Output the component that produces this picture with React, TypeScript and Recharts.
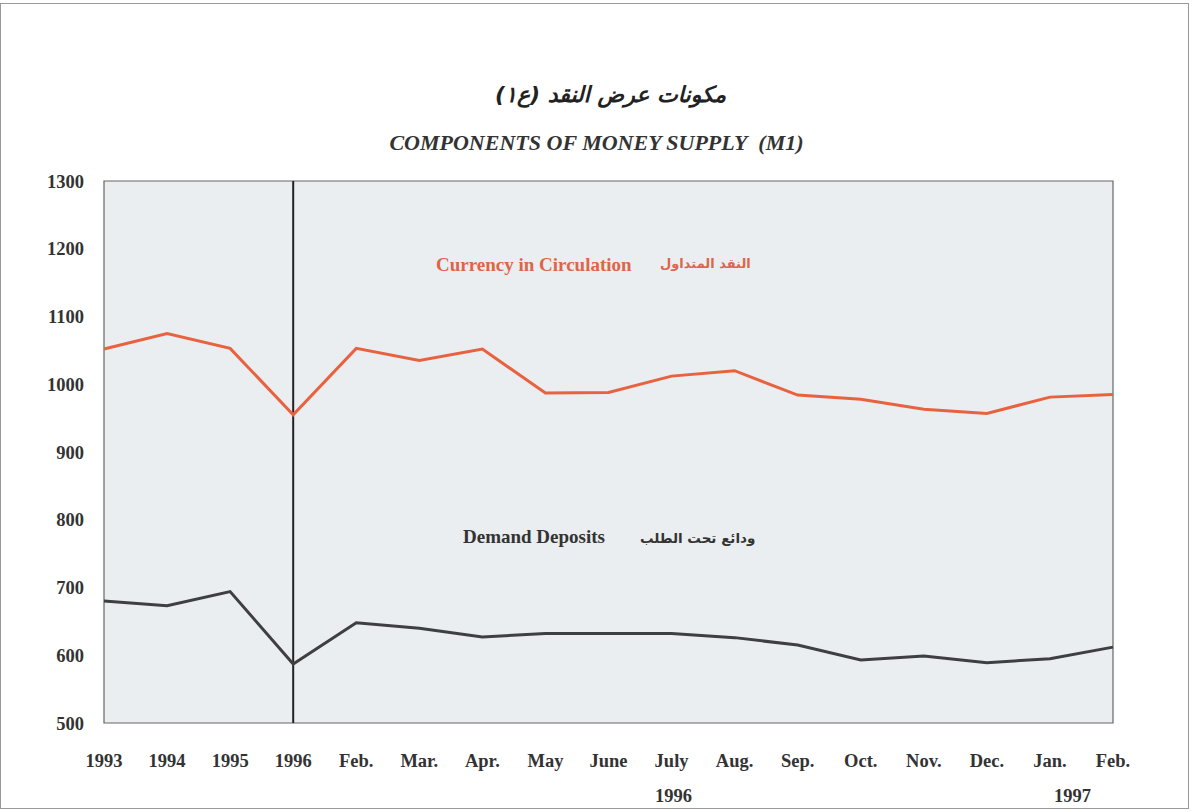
import React from "react";
import { LineChart, Line, XAxis, YAxis, CartesianGrid, ReferenceLine, ReferenceArea } from "recharts";

const categories = ["1993", "1994", "1995", "1996", "Feb.", "Mar.", "Apr.", "May", "June", "July", "Aug.", "Sep.", "Oct.", "Nov.", "Dec.", "Jan.", "Feb."];
const currency = [1052, 1075, 1053, 955, 1053, 1035, 1052, 987, 988, 1012, 1020, 984, 978, 963, 957, 981, 985];
const demand = [680, 673, 694, 587, 648, 640, 627, 632, 632, 632, 626, 615, 593, 599, 589, 595, 612];
const yTicks = [500, 600, 700, 800, 900, 1000, 1100, 1200, 1300];

const data = categories.map((c, i) => ({ idx: i, label: c, currency: currency[i], demand: demand[i] }));

const serif = "'Liberation Serif', 'Times New Roman', serif";
const arabic = "'DejaVu Sans', 'Noto Sans', sans-serif";

export default function App() {
  return (
    <div style={{ position: "absolute", left: 0, top: 0, width: 1193, height: 812, background: "#fff", fontFamily: serif }}>
      <div style={{ position: "absolute", left: 0, top: 3, width: 1189, height: 806, border: "1px solid #999", boxSizing: "border-box" }} />
      <div dir="rtl" style={{ position: "absolute", left: 0, width: 1193, top: 82, textAlign: "center", fontFamily: arabic, fontSize: 22, fontWeight: "bold", fontStyle: "italic", color: "#222", paddingLeft: 14 }}>
        مكونات عرض النقد (ع١)
      </div>
      <div style={{ position: "absolute", left: 0, width: 1193, top: 130, textAlign: "center", fontSize: 22, fontWeight: "bold", fontStyle: "italic", color: "#333", paddingLeft: 0 }}>
        COMPONENTS OF MONEY SUPPLY&nbsp;&nbsp;(M1)
      </div>
      <LineChart width={1193} height={812} data={data} margin={{ top: 181, right: 80, left: 44, bottom: 59 }}>
        <ReferenceArea x1={0} x2={16} y1={500} y2={1300} fill="#eaeef0" fillOpacity={1} stroke="none" />
        <CartesianGrid stroke="#ffffff" strokeWidth={1.5} />
        <ReferenceArea x1={0} x2={16} y1={500} y2={1300} fill="none" stroke="#666" strokeWidth={1.2} />
        <XAxis
          dataKey="idx"
          type="number"
          domain={[0, 16]}
          ticks={categories.map((_, i) => i)}
          tickFormatter={(v: number) => categories[v]}
          interval={0}
          height={30}
          axisLine={false}
          tickLine={false}
          tickSize={0}
          tickMargin={31}
          tick={{ fontSize: 18.5, fontWeight: "bold", fill: "#333", fontFamily: serif }}
        />
        <YAxis
          domain={[500, 1300]}
          ticks={yTicks}
          width={60}
          axisLine={false}
          tickLine={false}
          tickSize={0}
          tickMargin={20}
          tick={{ fontSize: 18.5, fontWeight: "bold", fill: "#333", fontFamily: serif }}
        />
        <ReferenceLine x={3} stroke="#222" strokeWidth={2} />
        <Line type="linear" dataKey="currency" stroke="#e8623f" strokeWidth={3} dot={false} isAnimationActive={false} />
        <Line type="linear" dataKey="demand" stroke="#3f3f42" strokeWidth={3} dot={false} isAnimationActive={false} />
      </LineChart>
      <div style={{ position: "absolute", left: 436, top: 254, fontSize: 19, fontWeight: "bold", color: "#e0644a" }}>Currency in Circulation</div>
      <div dir="rtl" style={{ position: "absolute", left: 660, top: 256, fontSize: 13, fontWeight: "bold", color: "#e0644a", fontFamily: arabic }}>النقد المتداول</div>
      <div style={{ position: "absolute", left: 463, top: 526, fontSize: 19, fontWeight: "bold", color: "#333" }}>Demand Deposits</div>
      <div dir="rtl" style={{ position: "absolute", left: 640, top: 530, fontSize: 13.5, fontWeight: "bold", color: "#333", fontFamily: arabic }}>ودائع تحت الطلب</div>
      <div style={{ position: "absolute", left: 655, top: 786, fontSize: 18.5, fontWeight: "bold", color: "#333" }}>1996</div>
      <div style={{ position: "absolute", left: 1054, top: 786, fontSize: 18.5, fontWeight: "bold", color: "#333" }}>1997</div>
    </div>
  );
}
